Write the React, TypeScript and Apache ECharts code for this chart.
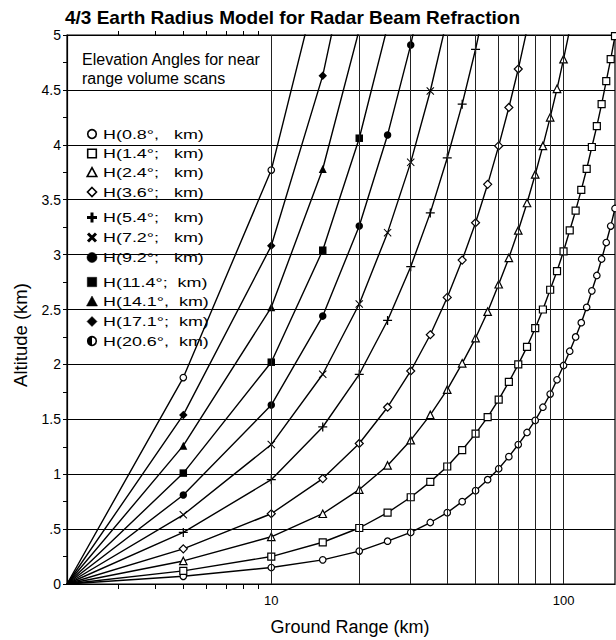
import React, { useEffect, useRef } from 'react';
import * as echarts from 'echarts';

// ---------- data ----------
const chartTitle = '4/3 Earth Radius Model for Radar Beam Refraction';
const noteLines = ['Elevation Angles for near', 'range volume scans'];
const xAxisName = 'Ground Range (km)';
const yAxisName = 'Altitude (km)';

// ground range (km) of the plotted markers
const groundRangeKm = [5, 10, 15, 20, 25, 30, 35, 40, 45, 50, 55, 60, 65, 70, 75, 80, 85, 90, 95, 100, 105, 110, 115, 120, 125, 130, 135, 140, 145, 150];
// all curves start from the lower-left corner of the chart
const originKm = 2;
const originAlt = 0;

const xLabelKm = [10, 100];
const xGridKm = [10, 20, 30, 40, 50, 60, 70, 80, 90, 100];
const xMinorTickKm = [3, 4, 5, 6, 7, 8, 9];

const angleNames = ['0.8°', '1.4°', '2.4°', '3.6°', '5.4°', '7.2°', '9.2°', '11.4°', '14.1°', '17.1°', '20.6°'];
const legendLabels = [
  'H(0.8°,   km)', 'H(1.4°;   km)', 'H(2.4°;   km)', 'H(3.6°;   km)', 'H(5.4°;   km)',
  'H(7.2°;   km)', 'H(9.2°;   km)', 'H(11.4°;  km)', 'H(14.1°,  km)', 'H(17.1°;  km)', 'H(20.6°,  km)',
];

// beam height (km) at each ground range
const h08 = [0.07, 0.15, 0.22, 0.30, 0.39, 0.47, 0.56, 0.65, 0.75, 0.85, 0.95, 1.05, 1.16, 1.27, 1.38, 1.49, 1.61, 1.73, 1.86, 1.99, 2.12, 2.25, 2.38, 2.52, 2.67, 2.81, 2.96, 3.11, 3.26, 3.42];
const h14 = [0.12, 0.25, 0.38, 0.51, 0.65, 0.79, 0.93, 1.07, 1.22, 1.37, 1.52, 1.68, 1.84, 2.00, 2.16, 2.33, 2.50, 2.68, 2.85, 3.03, 3.22, 3.40, 3.59, 3.78, 3.98, 4.17, 4.37, 4.58, 4.78, 4.99];
const h24 = [0.21, 0.43, 0.64, 0.86, 1.08, 1.31, 1.54, 1.77, 2.01, 2.24, 2.48, 2.73, 2.97, 3.22, 3.47, 3.73, 3.99, 4.25, 4.51, 4.78, 5.05];
const h36 = [0.32, 0.64, 0.96, 1.28, 1.61, 1.94, 2.27, 2.61, 2.95, 3.29, 3.64, 3.99, 4.34, 4.69, 5.05];
const h54 = [0.47, 0.95, 1.43, 1.91, 2.40, 2.89, 3.38, 3.88, 4.37, 4.87, 5.38];
const h72 = [0.63, 1.27, 1.91, 2.55, 3.20, 3.84, 4.49, 5.15];
const h92 = [0.81, 1.63, 2.44, 3.26, 4.09, 4.91, 5.74];
const h114 = [1.01, 2.02, 3.04, 4.06, 5.08];
const h141 = [1.26, 2.52, 3.78, 5.05];
const h171 = [1.54, 3.08, 4.63, 6.18];
const h206 = [1.88, 3.77, 5.65];

const heights = [h08, h14, h24, h36, h54, h72, h92, h114, h141, h171, h206];

// ---------- styles ----------
const FONT = "'Liberation Sans', Arial, Helvetica, sans-serif";
const PLUS = 'path://M4.3,0 L5.7,0 L5.7,4.3 L10,4.3 L10,5.7 L5.7,5.7 L5.7,10 L4.3,10 L4.3,5.7 L0,5.7 L0,4.3 L4.3,4.3 Z';
const CROSS = 'path://M0,0.9 L0.9,0 L5,4.1 L9.1,0 L10,0.9 L5.9,5 L10,9.1 L9.1,10 L5,5.9 L0.9,10 L0,9.1 L4.1,5 Z';

type Mk = { kind: string; symbol: string; size: number; filled: boolean };
const markers: Mk[] = [
  { kind: 'oCircle', symbol: 'circle', size: 6.5, filled: false },
  { kind: 'oRect', symbol: 'rect', size: 7, filled: false },
  { kind: 'oTri', symbol: 'triangle', size: 7.5, filled: false },
  { kind: 'oDiamond', symbol: 'diamond', size: 8, filled: false },
  { kind: 'plus', symbol: PLUS, size: 9, filled: true },
  { kind: 'cross', symbol: CROSS, size: 8, filled: true },
  { kind: 'fCircle', symbol: 'circle', size: 7.5, filled: true },
  { kind: 'fRect', symbol: 'rect', size: 7.5, filled: true },
  { kind: 'fTri', symbol: 'triangle', size: 8, filled: true },
  { kind: 'fDiamond', symbol: 'diamond', size: 8.5, filled: true },
  { kind: 'half', symbol: 'circle', size: 6.5, filled: false },
];

const legendRowY = [134, 153.5, 172.5, 192, 217.5, 237.5, 257.5, 282, 301.5, 321.5, 341];

function legendIcon(kind: string, cx: number, cy: number): any[] {
  const open = { fill: '#fff', stroke: '#000', lineWidth: 1.6 };
  const solid = { fill: '#000', stroke: '#000', lineWidth: 0.5 };
  switch (kind) {
    case 'oCircle':
      return [{ type: 'circle', shape: { cx, cy, r: 4.3 }, style: open }];
    case 'oRect':
      return [{ type: 'rect', shape: { x: cx - 4.3, y: cy - 4.3, width: 8.6, height: 8.6 }, style: open }];
    case 'oTri':
      return [{ type: 'polygon', shape: { points: [[cx, cy - 4.8], [cx + 4.8, cy + 4], [cx - 4.8, cy + 4]] }, style: open }];
    case 'oDiamond':
      return [{ type: 'polygon', shape: { points: [[cx, cy - 4.5], [cx + 4.5, cy], [cx, cy + 4.5], [cx - 4.5, cy]] }, style: open }];
    case 'plus':
      return [{
        type: 'polygon',
        shape: { points: [[cx - 1.5, cy - 5], [cx + 1.5, cy - 5], [cx + 1.5, cy - 1.5], [cx + 5, cy - 1.5], [cx + 5, cy + 1.5], [cx + 1.5, cy + 1.5], [cx + 1.5, cy + 5], [cx - 1.5, cy + 5], [cx - 1.5, cy + 1.5], [cx - 5, cy + 1.5], [cx - 5, cy - 1.5], [cx - 1.5, cy - 1.5]] },
        style: { fill: '#000' },
      }];
    case 'cross':
      return [
        { type: 'line', shape: { x1: cx - 4, y1: cy - 4, x2: cx + 4, y2: cy + 4 }, style: { stroke: '#000', lineWidth: 3 } },
        { type: 'line', shape: { x1: cx - 4, y1: cy + 4, x2: cx + 4, y2: cy - 4 }, style: { stroke: '#000', lineWidth: 3 } },
      ];
    case 'fCircle':
      return [{ type: 'circle', shape: { cx, cy, r: 5 }, style: solid }];
    case 'fRect':
      return [{ type: 'rect', shape: { x: cx - 4.7, y: cy - 4.7, width: 9.4, height: 9.4 }, style: solid }];
    case 'fTri':
      return [{ type: 'polygon', shape: { points: [[cx, cy - 5.5], [cx + 5.5, cy + 4.5], [cx - 5.5, cy + 4.5]] }, style: solid }];
    case 'fDiamond':
      return [{ type: 'polygon', shape: { points: [[cx, cy - 5], [cx + 5, cy], [cx, cy + 5], [cx - 5, cy]] }, style: solid }];
    case 'half':
      return [
        { type: 'circle', shape: { cx, cy, r: 4.3 }, style: open },
        { type: 'sector', shape: { cx, cy, r0: 0, r: 4.6, startAngle: Math.PI / 2, endAngle: (3 * Math.PI) / 2, clockwise: true }, style: { fill: '#000' } },
      ];
    default:
      return [];
  }
}

export default function App() {
  const ref = useRef<HTMLDivElement>(null);

  useEffect(() => {
    if (!ref.current) return;
    const chart = echarts.init(ref.current, null, { renderer: 'svg' });

    const series: any[] = heights.map((hs, i) => {
      const mk = markers[i];
      const data: any[] = [{ value: [originKm, originAlt], symbol: 'none' }];
      hs.forEach((h, j) => data.push([groundRangeKm[j], h]));
      return {
        name: angleNames[i],
        type: 'line',
        data,
        symbol: mk.symbol,
        symbolSize: mk.size,
        showAllSymbol: true,
        smooth: false,
        clip: true,
        z: 3,
        lineStyle: { color: '#000', width: 1.4 },
        itemStyle: {
          color: mk.filled ? '#000' : '#fff',
          borderColor: '#000',
          borderWidth: mk.filled ? 0 : 1.2,
        },
        emphasis: { disabled: true },
      };
    });

    // vertical grid lines (through the log axis)
    series.push({
      name: 'xgrid',
      type: 'line',
      data: [],
      z: 1,
      silent: true,
      markLine: {
        silent: true,
        symbol: 'none',
        label: { show: false },
        lineStyle: { color: '#222', width: 1, type: 'solid' },
        data: xGridKm.map((v) => ({ xAxis: v })),
        animation: false,
      },
    });

    const graphic: any[] = [];
    graphic.push({
      type: 'text', x: 82, y: 59,
      style: { text: noteLines[0], fontSize: 16, fontFamily: FONT, fill: '#000', align: 'left', verticalAlign: 'middle' },
    });
    graphic.push({
      type: 'text', x: 82, y: 78,
      style: { text: noteLines[1], fontSize: 16, fontFamily: FONT, fill: '#000', align: 'left', verticalAlign: 'middle' },
    });
    legendLabels.forEach((lab, i) => {
      const y = legendRowY[i];
      legendIcon(markers[i].kind, 92, y).forEach((el) => graphic.push(el));
      graphic.push({
        type: 'text', x: 103, y, scaleX: 1.38,
        style: { text: lab, fontSize: 13, fontFamily: FONT, fill: '#000', align: 'left', verticalAlign: 'middle' },
      });
    });
    graphic.push({
      type: 'text', x: 350, y: 627,
      style: { text: xAxisName, fontSize: 18, fontFamily: FONT, fill: '#000', align: 'center', verticalAlign: 'middle' },
    });
    graphic.push({
      type: 'text', x: 20, y: 335, rotation: Math.PI / 2,
      style: { text: yAxisName, fontSize: 18.5, fontFamily: FONT, fill: '#000', align: 'center', verticalAlign: 'middle' },
    });

    const option: any = {
      animation: false,
      backgroundColor: '#fff',
      title: {
        text: chartTitle,
        left: 65,
        top: 8,
        padding: 0,
        textStyle: { fontSize: 19, fontWeight: 'bold', fontFamily: FONT, color: '#000', lineHeight: 18 },
      },
      grid: { left: 67, top: 35, right: 1, bottom: 56, show: true, borderColor: '#000', borderWidth: 1.2, backgroundColor: 'transparent', containLabel: false },
      xAxis: [
        {
          type: 'log', logBase: 10, min: 2, max: 150, position: 'bottom',
          axisLine: { show: true, lineStyle: { color: '#000', width: 1.2 } },
          axisTick: { show: true, customValues: xMinorTickKm, length: 5, lineStyle: { color: '#000', width: 1 } },
          axisLabel: { show: true, customValues: xLabelKm, margin: 10, fontSize: 13, fontFamily: FONT, color: '#000' },
          splitLine: { show: false },
          minorTick: { show: false },
          minorSplitLine: { show: false },
        },
        {
          type: 'log', logBase: 10, min: 2, max: 150, position: 'top',
          axisLine: { show: true, lineStyle: { color: '#000', width: 1.2 } },
          axisTick: { show: true, customValues: xMinorTickKm, length: 4, lineStyle: { color: '#000', width: 1 } },
          axisLabel: { show: false },
          splitLine: { show: false },
        },
      ],
      yAxis: {
        type: 'value', min: 0, max: 5, interval: 0.5,
        axisLine: { show: true, lineStyle: { color: '#000', width: 1.2 } },
        axisTick: { show: true, length: 4, lineStyle: { color: '#000' } },
        minorTick: { show: true, splitNumber: 2, length: 4, lineStyle: { color: '#000' } },
        splitLine: { show: true, lineStyle: { color: '#000', width: 1.2 } },
        axisLabel: {
          margin: 6, fontSize: 14, fontFamily: FONT, color: '#000',
          formatter: (v: number) => (v === 0.5 ? '.5' : String(v)),
        },
      },
      series,
      graphic,
    };

    chart.setOption(option);
    return () => chart.dispose();
  }, []);

  return <div ref={ref} style={{ position: 'absolute', left: 0, top: 0, width: 616, height: 640 }} />;
}
